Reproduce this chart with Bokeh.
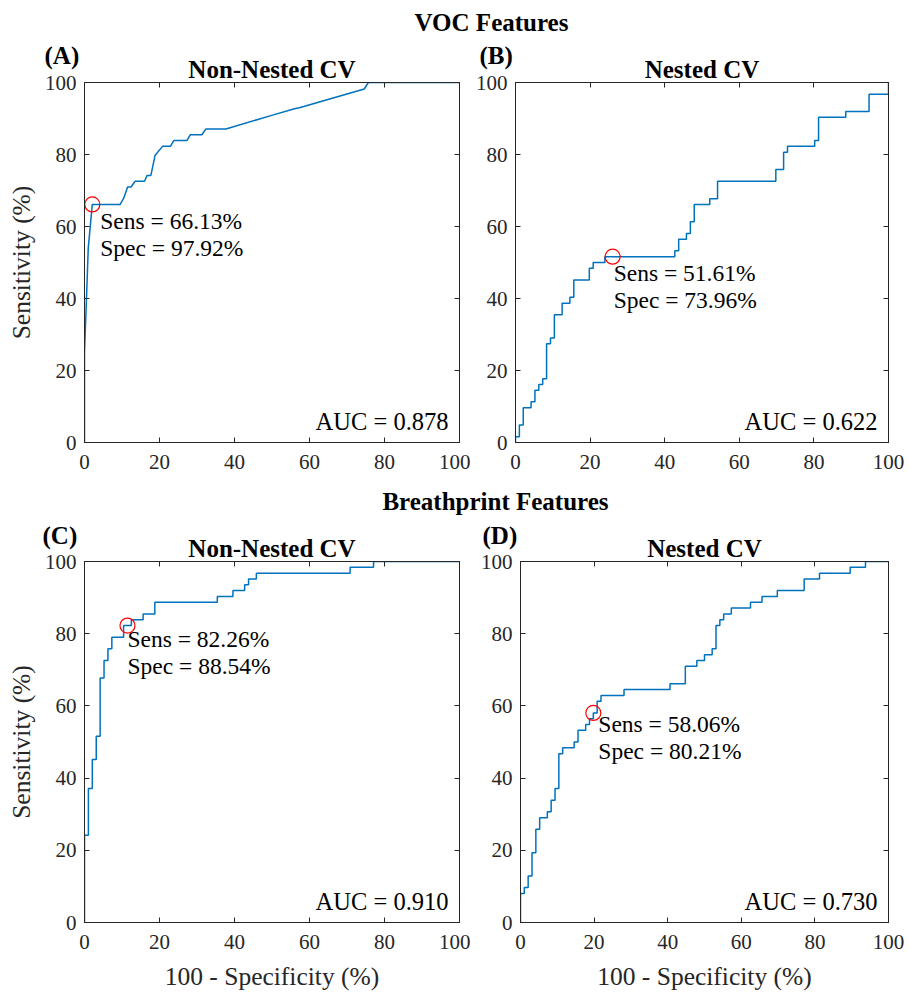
from bokeh.plotting import figure
from bokeh.models import Range1d, LinearAxis, Label, FixedTicker, CustomJSTickFormatter, GridBox
from bokeh.layouts import column, row
from bokeh.embed import file_html
from bokeh.resources import INLINE

SERIF = "Liberation Serif"
AXC = "#262626"
BLUE = "#0072BD"
W, H = 909, 993

# ---------------- data ----------------
ticks = [0, 20, 40, 60, 80, 100]

# (A) VOC features, non-nested CV
fpr_a = [0, 0, 0.7, 1.0, 2.08, 9.5, 10.4, 11.5, 12.4, 13.5, 16.0, 16.7, 17.7, 18.8,
         20.8, 22.9, 23.8, 27.3, 28.2, 31.3, 32.4, 37.7, 49.7, 56.0, 57.3, 74.6, 75.7, 100]
tpr_a = [0, 25, 45, 54, 66.13, 66.13, 67.74, 70.97, 70.97, 72.58, 72.58, 74.19, 74.19, 79.7,
         82.26, 82.26, 83.87, 83.87, 85.48, 85.48, 87.10, 87.10, 90.8, 92.7, 93.0, 98.2, 100, 100]

# (B) VOC features, nested CV (step corners)
fpr_b = [0, 0, 1.04, 2.08, 4.17, 5.21, 6.25, 7.29, 8.33, 9.38, 10.42, 12.5, 14.58, 15.63,
         19.79, 20.83, 23.96, 42.71, 43.75, 45.83, 46.88, 47.92, 52.08, 54.17, 69.79, 71.88,
         72.92, 80.21, 81.25, 88.54, 94.79, 100, 100]
tpr_b = [0, 1.61, 4.84, 9.68, 11.29, 14.52, 16.13, 17.74, 27.42, 29.03, 35.48, 38.71, 40.32,
         45.16, 48.39, 50.0, 51.61, 53.23, 56.45, 58.06, 61.29, 66.13, 67.74, 72.58, 75.81,
         80.65, 82.26, 83.87, 90.32, 91.94, 96.77, 100, 100]

# (C) Breathprint features, non-nested CV (step corners)
fpr_c = [0, 0, 1.04, 2.08, 3.13, 4.17, 5.21, 6.25, 7.29, 10.42, 12.5, 15.63, 18.75, 35.42,
         39.58, 42.71, 43.75, 45.83, 70.83, 77.08, 100]
tpr_c = [0, 24.19, 37.10, 45.16, 51.61, 67.74, 72.58, 75.81, 79.03, 82.26, 83.87, 85.48,
         88.71, 90.32, 91.94, 93.55, 95.16, 96.77, 98.39, 100, 100]

# (D) Breathprint features, nested CV (step corners)
fpr_d = [0, 0, 1.04, 2.08, 3.13, 4.17, 5.21, 7.29, 8.33, 9.38, 10.42, 11.46, 14.58, 15.63,
         17.71, 18.75, 19.79, 20.83, 21.88, 28.13, 40.63, 44.79, 47.92, 50.0, 52.08, 53.13,
         54.17, 55.21, 57.29, 62.5, 65.63, 69.79, 77.08, 81.25, 89.58, 93.75, 100]
tpr_d = [0, 8.06, 9.68, 12.90, 19.35, 25.81, 29.03, 30.65, 33.87, 37.10, 46.77, 48.39, 50.0,
         53.23, 54.84, 56.45, 58.06, 61.29, 62.90, 64.52, 66.13, 70.97, 72.58, 74.19, 75.81,
         82.26, 83.87, 85.48, 87.10, 88.71, 90.32, 91.94, 95.16, 96.77, 98.39, 100, 100]

# optimal operating points (sensitivity, specificity) and AUCs
sens = [66.13, 51.61, 82.26, 58.06]
spec = [97.92, 73.96, 88.54, 80.21]
auc = ["0.878", "0.622", "0.910", "0.730"]
letters = ["(A)", "(B)", "(C)", "(D)"]
titles = ["Non-Nested CV", "Nested CV", "Non-Nested CV", "Nested CV"]
headers = ["VOC Features", "Breathprint Features"]


def style_axis(ax, labels=True):
    ax.ticker = FixedTicker(ticks=ticks)
    ax.major_tick_in = 5
    ax.major_tick_out = 0
    ax.minor_tick_line_color = None
    ax.axis_line_color = AXC
    ax.major_tick_line_color = AXC
    ax.axis_label_text_font = SERIF
    ax.axis_label_text_font_style = "normal"
    ax.axis_label_text_font_size = "25.5px"
    ax.axis_label_text_color = AXC
    if labels:
        ax.major_label_text_font = SERIF
        ax.major_label_text_font_size = "21px"
        ax.major_label_text_color = AXC
    else:
        ax.formatter = CustomJSTickFormatter(code="return ''")
        ax.major_label_text_font_size = "0px"
        ax.major_label_standoff = 0


def panel(i, fpr, tpr, kind, width, height, bl, br, bt, bb, ylab, xlab, ann_off):
    p = figure(width=width, height=height, x_range=Range1d(0, 100), y_range=Range1d(0, 100),
               output_backend="svg", toolbar_location=None, title=titles[i],
               min_border_left=bl, min_border_right=br, min_border_top=bt, min_border_bottom=bb)
    p.grid.visible = False
    p.outline_line_color = AXC
    p.background_fill_color = "white"
    p.border_fill_color = "white"
    p.title.text_font = SERIF
    p.title.text_font_style = "bold"
    p.title.text_font_size = "25px"
    p.title.align = "center"
    p.title.standoff = 0
    p.title.text_color = "black"

    for ax in p.xaxis:
        style_axis(ax)
        ax.major_label_standoff = 12
        ax.axis_label_standoff = 10
    for ax in p.yaxis:
        style_axis(ax)
        ax.major_label_standoff = 8
        ax.axis_label_standoff = 6
    if ylab:
        p.yaxis.axis_label = "Sensitivity (%)"
    if xlab:
        p.xaxis.axis_label = "100 - Specificity (%)"

    top = LinearAxis()
    style_axis(top, labels=False)
    p.add_layout(top, "above")
    right = LinearAxis()
    style_axis(right, labels=False)
    p.add_layout(right, "right")

    if kind == "line":
        p.line(fpr, tpr, line_color=BLUE, line_width=1.5)
    else:
        p.step(fpr, tpr, mode="after", line_color=BLUE, line_width=1.5)

    fx = 100 - spec[i]
    fy = sens[i]
    p.scatter([fx], [fy], marker="circle", size=15, fill_color=None,
              line_color="red", line_width=1.2)

    common = dict(text_font=SERIF, text_font_size="23.5px", text_color="black",
                  text_baseline="alphabetic")
    p.add_layout(Label(x=fx, y=fy, x_offset=ann_off[0], y_offset=ann_off[1] + 8,
                       text="Sens = %.2f%%" % sens[i], **common))
    p.add_layout(Label(x=fx, y=fy, x_offset=ann_off[0], y_offset=ann_off[1] + 8 - 27,
                       text="Spec = %.2f%%" % spec[i], **common))
    p.add_layout(Label(x=100, y=0, x_offset=-11, y_offset=13 + 8, text_align="right",
                       text="AUC = " + auc[i], text_font=SERIF, text_font_size="24.5px",
                       text_color="black", text_baseline="alphabetic"))
    return p


pa = panel(0, fpr_a, tpr_a, "line", 470, 485, 84, 11, 82, 43, True, False, (8, -25))
pb = panel(1, fpr_b, tpr_b, "step", 439, 485, 45, 21, 82, 43, False, False, (1, -24))
pc = panel(2, fpr_c, tpr_c, "step", 470, 508, 84, 11, 76, 71, True, True, (0, -21))
pd = panel(3, fpr_d, tpr_d, "step", 439, 508, 50, 21, 76, 71, False, True, (5, -19))

# transparent overlay (pixel coordinates, y up) for the section headers and panel letters
ov = figure(width=W, height=H, x_range=Range1d(0, W), y_range=Range1d(0, H),
            output_backend="svg", toolbar_location=None, min_border=0, title=None,
            x_axis_location=None, y_axis_location=None, outline_line_color=None,
            background_fill_color=None, border_fill_color=None)
ov.grid.visible = False
bold = dict(text_font=SERIF, text_font_style="bold", text_font_size="25px",
            text_color="black", text_baseline="alphabetic")
ov.add_layout(Label(x=491, y=H - 21.5, text=headers[0], text_align="center", **bold))
ov.add_layout(Label(x=495, y=H - 501, text=headers[1], text_align="center", **bold))
for txt, lx, ly in zip(letters, [44, 479, 42, 482], [55, 55, 535, 535]):
    ov.add_layout(Label(x=lx, y=H - ly, text=txt, text_align="left", **bold))

main = column(row(pa, pb), row(pc, pd))
layout = GridBox(children=[(main, 0, 0), (column(ov), 0, 0)])
open("out.html", "w").write(file_html(layout, INLINE))
